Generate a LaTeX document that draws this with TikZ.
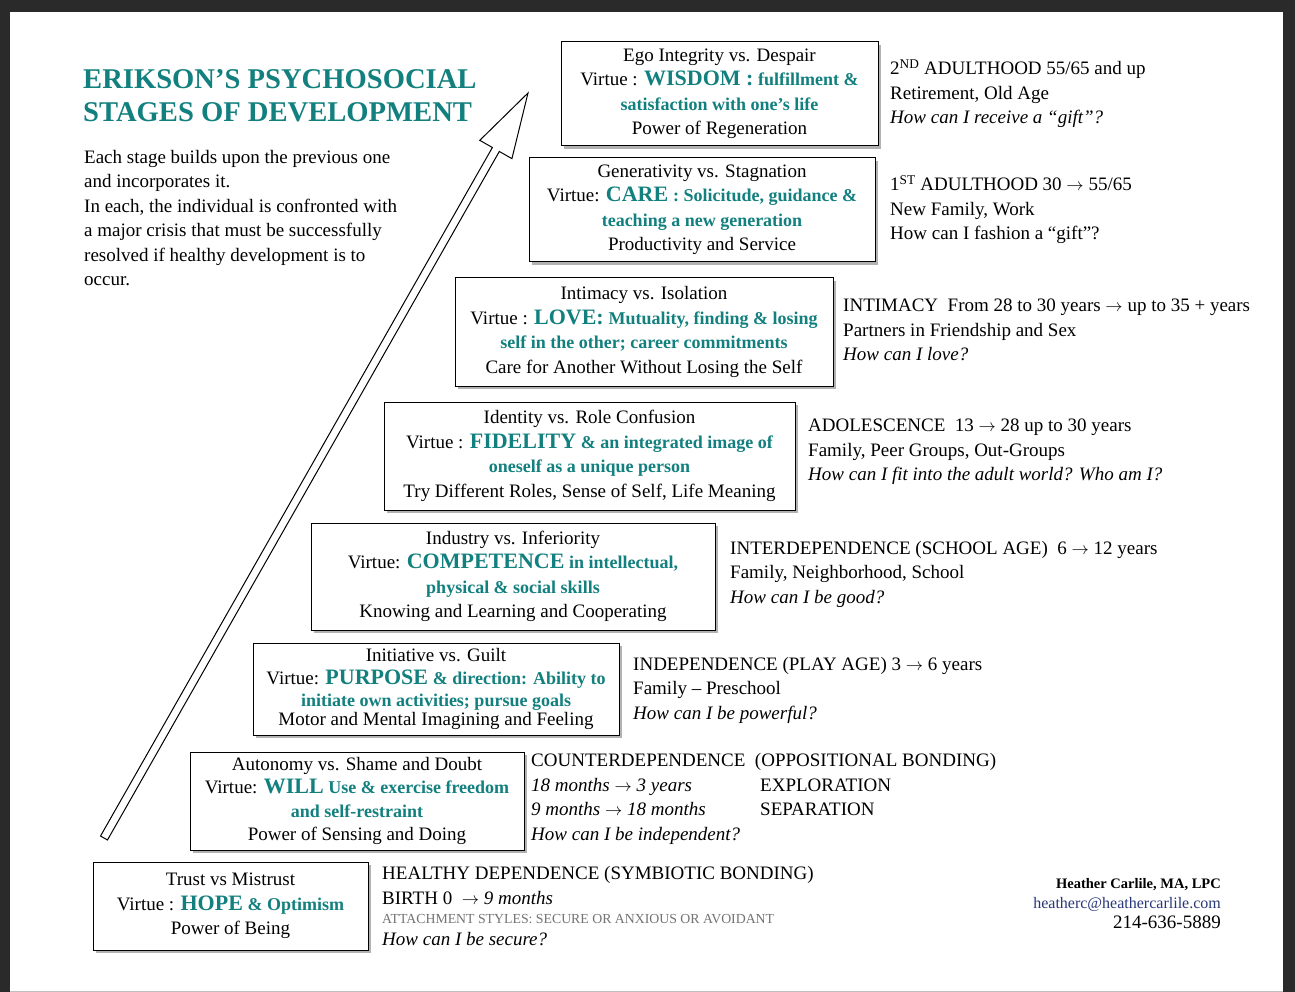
\documentclass[tikz,border=0pt]{standalone}
\usepackage{amsmath,amsfonts,graphicx}
\usepackage{xcolor}
\usepackage{fontspec}
\setmainfont{Liberation Serif}
\usepackage{tikz}
\usetikzlibrary{shadows,calc}

\definecolor{virtue}{RGB}{18,128,126}
\definecolor{mailblue}{RGB}{40,55,120}
\definecolor{pageframe}{RGB}{42,42,42}

\newcommand{\vkey}[1]{{\fontsize{22}{24}\selectfont\bfseries\color{virtue}#1}}
\newcommand{\vtxt}[1]{{\fontsize{18}{24}\selectfont\bfseries\color{virtue}#1}}
\newcommand{\goesto}{\ensuremath{\rightarrow}}

\begin{document}
\begin{tikzpicture}[x=1pt,y=-1pt,font=\fontsize{19}{24.5}\selectfont,
  stage/.style={draw,line width=1pt,fill=white,align=center,inner sep=0pt,
    drop shadow={shadow xshift=3pt,shadow yshift=-3pt,fill=black,opacity=0.3}},
  info/.style={anchor=west,align=left,inner sep=0pt}]

  \fill[pageframe] (0,0) rectangle (1295,992);
  \fill[white] (10,12) rectangle (1283,992);
  \draw[black!25] (10,991) -- (1283,991);

  \node[anchor=west,align=left,inner sep=0pt,text=virtue,
    font=\fontsize{28.6}{33}\selectfont\bfseries] (title) at (83,96)
    {ERIKSON’S PSYCHOSOCIAL\\ STAGES OF DEVELOPMENT};
  \node[info] (intro) at (84,218) {Each stage builds upon the previous one\\
    and incorporates it.\\ In each, the individual is confronted with\\
    a major crisis that must be successfully\\ resolved if healthy development is to\\ occur.};

  \coordinate (tail) at (104,838);
  \coordinate (tip) at (528,93);
  \coordinate (neck) at ($(tip)!65pt!(tail)$);
  \draw[line width=1pt,fill=white,line join=miter]
    ($(tail)!4pt!90:(tip)$) -- ($(neck)!4pt!90:(tip)$) -- ($(neck)!18.5pt!90:(tip)$)
    -- (tip) -- ($(neck)!18.5pt!-90:(tip)$) -- ($(neck)!4pt!-90:(tip)$)
    -- ($(tail)!4pt!-90:(tip)$) -- cycle;

  \node[stage,minimum width=317pt,minimum height=104pt] (integrity) at (719.5,94)
    {Ego Integrity vs. Despair\\ Virtue : \vkey{WISDOM :} \vtxt{fulfillment \&}\\
     \vtxt{satisfaction with one’s life}\\ Power of Regeneration};
  \node[stage,minimum width=346pt,minimum height=104pt] (generativity) at (702,210)
    {Generativity vs. Stagnation\\ Virtue: \vkey{CARE} \vtxt{: Solicitude, guidance \&}\\
     \vtxt{teaching a new generation}\\ Productivity and Service};
  \node[stage,minimum width=378pt,minimum height=108pt] (intimacy) at (644,332)
    {Intimacy vs. Isolation\\ Virtue : \vkey{LOVE:} \vtxt{Mutuality, finding \& losing}\\
     \vtxt{self in the other; career commitments}\\ Care for Another Without Losing the Self};
  \node[stage,minimum width=411pt,minimum height=108pt] (identity) at (589.5,456)
    {Identity vs. Role Confusion\\ Virtue : \vkey{FIDELITY} \vtxt{\& an integrated image of}\\
     \vtxt{oneself as a unique person}\\ Try Different Roles, Sense of Self, Life Meaning};
  \node[stage,minimum width=404pt,minimum height=107pt] (industry) at (513,576.5)
    {Industry vs. Inferiority\\ Virtue: \vkey{COMPETENCE} \vtxt{in intellectual,}\\
     \vtxt{physical \& social skills}\\ Knowing and Learning and Cooperating};
  \node[stage,minimum width=366pt,minimum height=92pt,
    font=\fontsize{19}{22.5}\selectfont] (initiative) at (436,689)
    {Initiative vs. Guilt\\ Virtue: \vkey{PURPOSE} \vtxt{\& direction: Ability to}\\
     \vtxt{initiate own activities; pursue goals}\\[-4pt] Motor and Mental Imagining and Feeling};
  \node[stage,minimum width=334pt,minimum height=98pt,
    font=\fontsize{19}{23.5}\selectfont] (autonomy) at (357,801)
    {Autonomy vs. Shame and Doubt\\ Virtue: \vkey{WILL} \vtxt{Use \& exercise freedom}\\
     \vtxt{and self-restraint}\\ Power of Sensing and Doing};
  \node[stage,minimum width=275pt,minimum height=88pt] (trust) at (230.5,906)
    {Trust vs Mistrust\\ Virtue : \vkey{HOPE} \vtxt{\& Optimism}\\ Power of Being};

  \node[info] (adult2) at (890,94) {2\textsuperscript{ND} ADULTHOOD 55/65 and up\\
    Retirement, Old Age\\ \textit{How can I receive a “gift”?}};
  \node[info] (adult1) at (890,210) {1\textsuperscript{ST} ADULTHOOD 30 \goesto{} 55/65\\
    New Family, Work\\ How can I fashion a “gift”?};
  \node[info] (young) at (843,330) {INTIMACY\enspace From 28 to 30 years \goesto{} up to 35 + years\\
    Partners in Friendship and Sex\\ \textit{How can I love?}};
  \node[info] (adolescence) at (808,452) {ADOLESCENCE\enspace 13 \goesto{} 28 up to 30 years\\
    Family, Peer Groups, Out-Groups\\ \textit{How can I fit into the adult world? Who am I?}};
  \node[info] (school) at (730,574) {INTERDEPENDENCE (SCHOOL AGE)\enspace 6 \goesto{} 12 years\\
    Family, Neighborhood, School\\ \textit{How can I be good?}};
  \node[info] (play) at (633,690) {INDEPENDENCE (PLAY AGE) 3 \goesto{} 6 years\\
    Family – Preschool\\ \textit{How can I be powerful?}};
  \node[info] (toddler) at (531,799) {COUNTERDEPENDENCE\enspace (OPPOSITIONAL BONDING)\\
    \makebox[229pt][l]{\textit{18 months \goesto{} 3 years}}EXPLORATION\\
    \makebox[229pt][l]{\textit{9 months \goesto{} 18 months}}SEPARATION\\
    \textit{How can I be independent?}};
  \node[info] (infant) at (382,906) {HEALTHY DEPENDENCE (SYMBIOTIC BONDING)\\
    BIRTH 0\enspace \goesto{} \textit{9 months}\\[-5pt]
    {\fontsize{13.8}{16}\selectfont\color{black!55}ATTACHMENT STYLES: SECURE OR ANXIOUS OR AVOIDANT}\\[-3pt]
    \textit{How can I be secure?}};

  \node[anchor=east,align=right,inner sep=0pt,font=\fontsize{19}{20}\selectfont] (sig) at (1221,904)
    {{\fontsize{14.5}{18}\selectfont\bfseries Heather Carlile, MA, LPC}\\
     {\fontsize{16}{18}\selectfont\color{mailblue}heatherc@heathercarlile.com}\\ 214-636-5889};
\end{tikzpicture}
\end{document}
